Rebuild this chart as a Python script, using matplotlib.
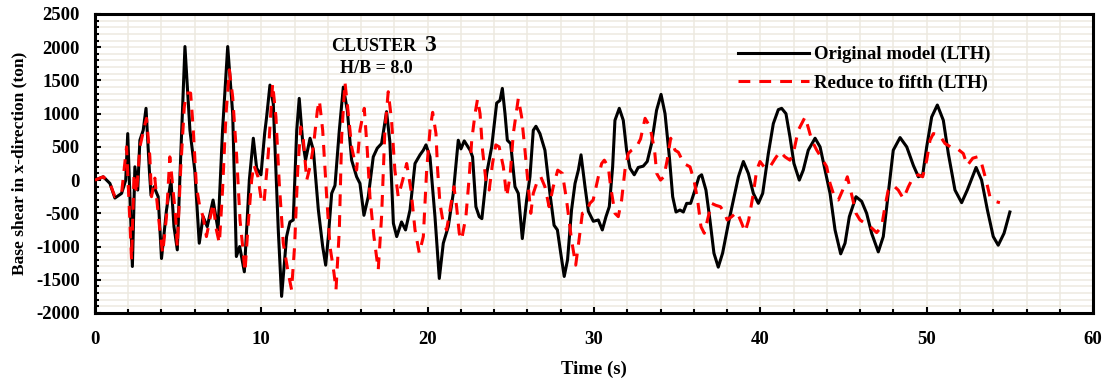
import numpy as np
import matplotlib
matplotlib.use("Agg")
import matplotlib.pyplot as plt
from matplotlib.ticker import MultipleLocator

plt.rcParams['font.family'] = ['Liberation Serif', 'DejaVu Serif']
plt.rcParams['font.weight'] = 'bold'
plt.rcParams['axes.unicode_minus'] = False
plt.rcParams['lines.scale_dashes'] = False

# base shear time history, original model (LTH)
t_orig = [0, 0.5, 0.9, 1.2, 1.6, 1.85, 1.97, 2.25, 2.4, 2.57, 2.7, 2.9, 3.07, 3.27, 3.37, 3.55, 3.8,
          4.0, 4.3, 4.57, 4.75, 4.95, 5.1, 5.41, 5.71, 6.0, 6.27, 6.5, 6.75, 7.1, 7.4, 7.67, 7.98,
          8.28, 8.5, 8.7, 8.98, 9.28, 9.52, 9.72, 9.98, 10.2, 10.32, 10.52, 10.72, 11.02, 11.22,
          11.52, 11.72, 11.92, 12.13, 12.28, 12.48, 12.66, 12.93, 13.13, 13.43, 13.69, 13.87, 14.03,
          14.23, 14.43, 14.69, 14.93, 15.17, 15.43, 15.73, 15.93, 16.17, 16.43, 16.73, 16.97, 17.23,
          17.53, 17.73, 17.94, 18.14, 18.43, 18.67, 18.94, 19.24, 19.54, 19.74, 19.9, 20.14, 20.44,
          20.7, 20.94, 21.24, 21.54, 21.84, 22.0, 22.2, 22.55, 22.7, 22.9, 23.1, 23.26, 23.55, 23.85,
          24.15, 24.35, 24.49, 24.65, 24.79, 24.99, 25.25, 25.45, 25.69, 25.95, 26.15, 26.35, 26.51,
          26.75, 27.05, 27.35, 27.6, 27.8, 28.0, 28.21, 28.41, 28.65, 28.86, 29.06, 29.22, 29.46,
          29.66, 29.96, 30.26, 30.5, 30.72, 30.92, 31.12, 31.26, 31.52, 31.76, 31.96, 32.16, 32.42,
          32.66, 32.96, 33.2, 33.46, 33.76, 34.03, 34.27, 34.53, 34.73, 34.93, 35.17, 35.37, 35.57,
          35.81, 36.07, 36.31, 36.47, 36.73, 36.97, 37.21, 37.47, 37.73, 38.08, 38.42, 38.68, 38.98,
          39.28, 39.58, 39.88, 40.14, 40.48, 40.78, 41.08, 41.28, 41.54, 41.78, 42.02, 42.34, 42.58,
          42.88, 43.29, 43.59, 43.89, 44.19, 44.49, 44.83, 45.09, 45.35, 45.75, 46.09, 46.39, 46.69,
          47.09, 47.39, 47.69, 47.99, 48.4, 48.8, 49.2, 49.5, 49.76, 50.0, 50.3, 50.64, 51.0, 51.3,
          51.7, 52.1, 52.44, 52.97, 53.3, 53.65, 54.0, 54.3, 54.65, 55.0]
v_orig = [0, 50, -50, -270, -200, 0, 700, -1300, 200, -150, 600, 750, 1080, 150, -230, -100, -250,
          -1180, -450, 0, -700, -1050, 0, 2010, 750, 150, -950, -550, -700, -300, -750, 750, 2010,
          1000, -1150, -1000, -1380, 0, 630, 180, 80, 700, 950, 1430, 1150, -750, -1750,
          -850, -630, -600, 750, 1230, 600, 300, 630, 450, -450, -1000, -1280, -850,
          -200, -80, 750, 1400, 1050, 300, 50, -50, -530, -250, 350, 480, 550,
          1030, 570, -650, -850, -630, -750, -450, 250, 380, 450, 530, 350, -550,
          -1480, -950, -700, -200, 600, 470, 590, 450, 350, -400, -550, -580, 100, 500,
          1160, 1200, 1380, 1000, 600, 550, -100, -200, -880, -300, 50, 750, 810,
          700, 450, -200, -680, -750, -1100, -1450, -1200, -450, -50, 150, 380, -100,
          -470, -620, -600, -750, -550, -400, 200, 900, 1080, 900, 450, 180, 80,
          190, 210, 280, 550, 1050, 1290, 1000, 350, -250, -480, -450, -480, -350,
          -350, -150, 50, 80, -150, -600, -1100, -1310, -1100, -650, -250, 50, 280,
          100, -200, -350, -200, 400, 850, 1060, 1080, 1000, 650, 250, 0, 150,
          450, 630, 500, 150, -200, -750, -1110, -950, -550, -250, -320, -500, -800,
          -1080, -850, -200, 450, 640, 500, 220, 50, 80, 500, 950, 1130, 900, 400,
          -150, -340, -150, 190, 0, -450, -850, -980, -800, -480]

# base shear time history, model reduced to fifth (LTH)
t_red = [0, 0.5, 0.9, 1.2, 1.6, 1.9, 2.2, 2.35, 2.5, 2.7, 2.97, 3.1, 3.3, 3.4, 3.6, 3.7, 3.9, 4.07,
         4.3, 4.5, 4.6, 4.85, 4.95, 5.15, 5.37, 5.5, 5.75, 5.9, 6.1, 6.3, 6.5, 6.7, 6.9, 7.1, 7.3,
         7.48, 7.67, 7.88, 8.08, 8.28, 8.52, 8.72, 8.88, 9.02, 9.2, 9.42, 9.55, 9.8, 10.0, 10.16,
         10.42, 10.68, 10.88, 11.08, 11.32, 11.62, 11.82, 12.0, 12.19, 12.37, 12.53, 12.73, 12.93,
         13.13, 13.37, 13.49, 13.69, 13.93, 14.13, 14.37, 14.49, 14.69, 14.83, 15.03, 15.23, 15.43,
         15.73, 15.93, 16.19, 16.37, 16.53, 16.77, 17.03, 17.23, 17.43, 17.63, 17.83, 18.03, 18.23,
         18.5, 18.74, 19.0, 19.24, 19.5, 19.74, 19.94, 20.14, 20.3, 20.5, 20.6, 20.74, 20.94, 21.14,
         21.34, 21.58, 21.74, 21.9, 22.04, 22.3, 22.5, 22.65, 22.85, 23.0, 23.15, 23.3, 23.5, 23.7,
         23.9, 24.1, 24.3, 24.55, 24.75, 24.95, 25.15, 25.45, 25.65, 25.85, 26.05, 26.2, 26.35,
         26.55, 26.8, 27.05, 27.3, 27.55, 27.82, 28.1, 28.35, 28.65, 28.9, 29.1, 29.3, 29.55,
         29.75, 29.95, 30.26, 30.46, 30.62, 30.86, 31.0, 31.26, 31.46, 31.66, 31.86, 32.06, 32.26,
         32.56, 32.8, 33.07, 33.37, 33.64, 33.77, 34.0, 34.2, 34.4, 34.61, 34.87, 35.07, 35.4,
         35.77, 36.01, 36.23, 36.43, 36.63, 36.87, 37.07, 37.33, 37.6, 37.81, 38.01, 38.28, 38.6,
         38.88, 39.08, 39.3, 39.58, 39.78, 39.98, 40.28, 40.58, 40.88, 41.18, 41.48, 41.78, 41.98,
         42.28, 42.69, 42.89, 43.09, 43.39, 43.69, 43.99, 44.19, 44.49, 44.69, 44.95, 45.23, 45.49,
         45.75, 45.99, 46.29, 46.69, 46.99, 47.29, 47.49, 47.69, 47.99, 48.29, 48.6, 48.9, 49.2,
         49.5, 49.76, 50.0, 50.2, 50.4, 50.76, 51.1, 51.44, 51.8, 52.2, 52.44, 52.77, 53.05, 53.3,
         53.57, 53.8, 54.1, 54.4]
v_red = [0, 50, -50, -250, -200, 500, -1200, 100, -200, 500, 800, 930, 350, -250, 30, -250, -750, -1100,
         -550, 350, 100, -550, -1000, 150, 1100, 1310, 1310, 800, -100, -400, -550, -850, -600, -350, -750,
         -950, -150, 1000, 1660, 1250, 350, -600, -1000, -1380, -700, 0, 230, 50, -300, -350,
         400, 1450, 950, -50, -950, -1400, -1650, -1000, 150, 800, 600, 0, 200,
         500, 1050, 1200, 750, -250, -1000, -1400, -1650, -750, 650, 1470, 1000, 500,
         150, 750, 1080, 450, -250, -850, -1350, -550, 750, 1330, 900, 150, -250,
         0, 250, -150, -750, -1100, -850, 150, 750, 1020, 700, 150, -350, -650, -750,
         -450, -100, -400, -800, -900, -550, 50, 600, 1000, 1220, 1000, 450, 0, -150,
         250, 530, 500, 200, -250, 50, 700, 1230, 950, 450, -100, -500, -200,
         -50, 50, -100, -400, -100, 150, 100, -300, -900, -1280, -900, -500, -480,
         -350, -300, 50, 250, 300, 200, -100, -500, -550, -300, 150, 400, 450,
         500, 620, 930, 800, 450, 100, 0, 50, 300, 630, 450, 420, 250,
         200, 0, -300, -700, -800, -550, -350, -380, -400, -480, -600, -550, -480,
         -650, -780, -600, -200, 150, 280, 180, 200, 320, 430, 350, 300, 400,
         750, 950, 780, 600, 450, 330, 200, -50, -280, -300, -150, 50, -220,
         -500, -600, -650, -720, -790, -700, -400, -150, -80, -150, -280, -100, 50,
         80, 50, 300, 600, 700, 680, 550, 500, 480, 400, 220, 330, 350, 250,
         0, -250, -320, -340]

fig = plt.figure(figsize=(11.08, 3.81), dpi=100)
ax = fig.add_axes([0.0857, 0.1785, 0.9008, 0.7848])

ax.plot(t_orig, v_orig, color='black', lw=2.2, solid_joinstyle='round',
        label='Original model (LTH)', zorder=3)
ax.plot(t_red, v_red, color='#FF0000', lw=2.2, dashes=(8.5, 6.5),
        label='Reduce to fifth (LTH)', zorder=4)

ax.set_xlim(0, 60)
ax.set_ylim(-2000, 2500)
ax.xaxis.set_major_locator(MultipleLocator(10))
ax.xaxis.set_minor_locator(MultipleLocator(2))
ax.yaxis.set_major_locator(MultipleLocator(500))
ax.yaxis.set_minor_locator(MultipleLocator(100))

ax.grid(which='both', color='#EDEAE0', lw=1.1, zorder=0)
ax.set_axisbelow(True)
for s in ax.spines.values():
    s.set_linewidth(2.2)

ax.tick_params(which='both', direction='in', width=1.5, labelsize=13.5)
ax.tick_params(which='major', length=4)
ax.tick_params(which='minor', length=3)
ax.tick_params(axis='x', pad=13)
ax.tick_params(axis='y', pad=11)

ax.set_xlabel('Time (s)', fontsize=13.5, fontweight='bold')
ax.set_ylabel('Base shear in x-direction (ton)', fontsize=12.5, fontweight='bold')
ax.xaxis.set_label_coords(0.5, -0.16)
ax.yaxis.set_label_coords(-0.068, 0.5)

ax.text(0.2365, 0.876, 'CLUSTER', transform=ax.transAxes, fontsize=13, fontweight='bold')
ax.text(0.3297, 0.876, '3', transform=ax.transAxes, fontsize=17, fontweight='bold')
ax.text(0.2455, 0.8017, 'H/B = 8.0', transform=ax.transAxes, fontsize=13, fontweight='bold')

ax.legend(loc='upper left', bbox_to_anchor=(0.644, 0.893), frameon=False,
          fontsize=13.5, handlelength=3.8, handletextpad=0.25, labelspacing=0.6,
          borderpad=0, borderaxespad=0)

fig.savefig('out.png', dpi=100)
